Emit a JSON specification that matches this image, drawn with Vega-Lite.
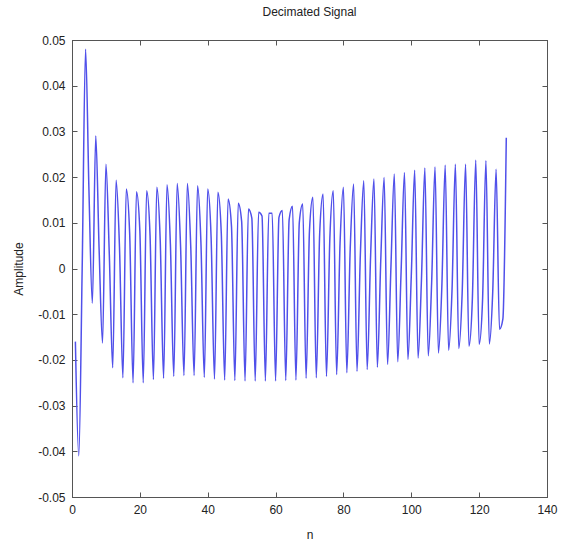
{
  "$schema": "https://vega.github.io/schema/vega-lite/v6.json",
  "width": 475,
  "height": 457,
  "autosize": {"type": "none"},
  "padding": {"left": 72, "top": 40, "right": 15, "bottom": 50},
  "background": "white",
  "title": {"text": "Decimated Signal", "fontSize": 12, "fontWeight": "normal", "font": "Liberation Sans", "color": "#222222", "offset": 15},
  "data": {"values": [
    {"n": 1, "amplitude": -0.016}, {"n": 2, "amplitude": -0.041}, {"n": 3, "amplitude": 0.0}, {"n": 4, "amplitude": 0.048},
    {"n": 5, "amplitude": 0.017}, {"n": 6, "amplitude": -0.0076}, {"n": 7, "amplitude": 0.029}, {"n": 8, "amplitude": 0.004},
    {"n": 9, "amplitude": -0.0163}, {"n": 10, "amplitude": 0.0228}, {"n": 11, "amplitude": 0.003}, {"n": 12, "amplitude": -0.0217},
    {"n": 13, "amplitude": 0.0193}, {"n": 14, "amplitude": 0.0046}, {"n": 15, "amplitude": -0.0239}, {"n": 16, "amplitude": 0.0174},
    {"n": 17, "amplitude": 0.0076}, {"n": 18, "amplitude": -0.025}, {"n": 19, "amplitude": 0.0168}, {"n": 20, "amplitude": 0.0082},
    {"n": 21, "amplitude": -0.025}, {"n": 22, "amplitude": 0.017}, {"n": 23, "amplitude": 0.0073}, {"n": 24, "amplitude": -0.0243},
    {"n": 25, "amplitude": 0.0178}, {"n": 26, "amplitude": 0.0062}, {"n": 27, "amplitude": -0.024}, {"n": 28, "amplitude": 0.0183},
    {"n": 29, "amplitude": 0.0053}, {"n": 30, "amplitude": -0.0236}, {"n": 31, "amplitude": 0.0186}, {"n": 32, "amplitude": 0.0048},
    {"n": 33, "amplitude": -0.0234}, {"n": 34, "amplitude": 0.0186}, {"n": 35, "amplitude": 0.0048}, {"n": 36, "amplitude": -0.0234},
    {"n": 37, "amplitude": 0.0181}, {"n": 38, "amplitude": 0.0057}, {"n": 39, "amplitude": -0.0238}, {"n": 40, "amplitude": 0.0174},
    {"n": 41, "amplitude": 0.0068}, {"n": 42, "amplitude": -0.0242}, {"n": 43, "amplitude": 0.0167}, {"n": 44, "amplitude": 0.0077},
    {"n": 45, "amplitude": -0.0244}, {"n": 46, "amplitude": 0.0152}, {"n": 47, "amplitude": 0.0093}, {"n": 48, "amplitude": -0.0245},
    {"n": 49, "amplitude": 0.0143}, {"n": 50, "amplitude": 0.0103}, {"n": 51, "amplitude": -0.0246}, {"n": 52, "amplitude": 0.013},
    {"n": 53, "amplitude": 0.011}, {"n": 54, "amplitude": -0.0246}, {"n": 55, "amplitude": 0.0123}, {"n": 56, "amplitude": 0.0115},
    {"n": 57, "amplitude": -0.0246}, {"n": 58, "amplitude": 0.0121}, {"n": 59, "amplitude": 0.0121}, {"n": 60, "amplitude": -0.0246},
    {"n": 61, "amplitude": 0.0112}, {"n": 62, "amplitude": 0.0127}, {"n": 63, "amplitude": -0.0245}, {"n": 64, "amplitude": 0.0107},
    {"n": 65, "amplitude": 0.0136}, {"n": 66, "amplitude": -0.0244}, {"n": 67, "amplitude": 0.0101}, {"n": 68, "amplitude": 0.0141},
    {"n": 69, "amplitude": -0.024}, {"n": 70, "amplitude": 0.0084}, {"n": 71, "amplitude": 0.0156}, {"n": 72, "amplitude": -0.0239},
    {"n": 73, "amplitude": 0.0076}, {"n": 74, "amplitude": 0.0163}, {"n": 75, "amplitude": -0.0236}, {"n": 76, "amplitude": 0.0066},
    {"n": 77, "amplitude": 0.017}, {"n": 78, "amplitude": -0.0232}, {"n": 79, "amplitude": 0.0054}, {"n": 80, "amplitude": 0.0178},
    {"n": 81, "amplitude": -0.0228}, {"n": 82, "amplitude": 0.0043}, {"n": 83, "amplitude": 0.0185}, {"n": 84, "amplitude": -0.0225},
    {"n": 85, "amplitude": 0.0033}, {"n": 86, "amplitude": 0.0192}, {"n": 87, "amplitude": -0.0221}, {"n": 88, "amplitude": 0.0025},
    {"n": 89, "amplitude": 0.0196}, {"n": 90, "amplitude": -0.0216}, {"n": 91, "amplitude": 0.0017}, {"n": 92, "amplitude": 0.0199},
    {"n": 93, "amplitude": -0.021}, {"n": 94, "amplitude": 0.0003}, {"n": 95, "amplitude": 0.0207}, {"n": 96, "amplitude": -0.0204},
    {"n": 97, "amplitude": -0.0006}, {"n": 98, "amplitude": 0.021}, {"n": 99, "amplitude": -0.0199}, {"n": 100, "amplitude": -0.0016},
    {"n": 101, "amplitude": 0.0215}, {"n": 102, "amplitude": -0.0196}, {"n": 103, "amplitude": -0.0024}, {"n": 104, "amplitude": 0.022},
    {"n": 105, "amplitude": -0.0191}, {"n": 106, "amplitude": -0.0031}, {"n": 107, "amplitude": 0.0222}, {"n": 108, "amplitude": -0.0185},
    {"n": 109, "amplitude": -0.0041}, {"n": 110, "amplitude": 0.0226}, {"n": 111, "amplitude": -0.0179}, {"n": 112, "amplitude": -0.0049},
    {"n": 113, "amplitude": 0.0228}, {"n": 114, "amplitude": -0.0175}, {"n": 115, "amplitude": -0.0053}, {"n": 116, "amplitude": 0.0228},
    {"n": 117, "amplitude": -0.017}, {"n": 118, "amplitude": -0.0067}, {"n": 119, "amplitude": 0.0237}, {"n": 120, "amplitude": -0.0166},
    {"n": 121, "amplitude": -0.007}, {"n": 122, "amplitude": 0.0236}, {"n": 123, "amplitude": -0.0165}, {"n": 124, "amplitude": -0.0052},
    {"n": 125, "amplitude": 0.0217}, {"n": 126, "amplitude": -0.0133}, {"n": 127, "amplitude": -0.011}, {"n": 128, "amplitude": 0.0286}
  ]},
  "config": {
    "view": {"stroke": "#555555", "strokeWidth": 1},
    "axis": {
      "grid": false,
      "domainColor": "#555555",
      "domainWidth": 1,
      "tickColor": "#555555",
      "tickSize": -5,
      "tickWidth": 1,
      "labelFont": "Liberation Sans",
      "labelFontSize": 12,
      "labelColor": "#222222",
      "titleFont": "Liberation Sans",
      "titleFontSize": 12,
      "titleFontWeight": "normal",
      "titleColor": "#222222"
    }
  },
  "layer": [
    {
      "mark": {"type": "line", "color": "#5050ea", "strokeWidth": 1.5, "interpolate": "monotone", "strokeJoin": "round"},
      "encoding": {
        "x": {"field": "n", "type": "quantitative", "scale": {"domain": [0, 140], "nice": false},
              "axis": {"orient": "bottom", "values": [0, 20, 40, 60, 80, 100, 120, 140], "title": "n", "labelPadding": 12, "titlePadding": 14, "labelFlush": false}},
        "y": {"field": "amplitude", "type": "quantitative", "scale": {"domain": [-0.05, 0.05], "nice": false},
              "axis": {"orient": "left", "values": [-0.05, -0.04, -0.03, -0.02, -0.01, 0, 0.01, 0.02, 0.03, 0.04, 0.05], "title": "Amplitude", "labelPadding": 12, "titlePadding": 12, "labelFlush": false,
                       "labelExpr": "datum.value == 0 ? '0' : (datum.value < 0 ? '-' + format(-datum.value, '.2f') : format(datum.value, '.2f'))"}}
      }
    },
    {
      "mark": {"type": "line", "opacity": 0},
      "encoding": {
        "x": {"field": "n", "type": "quantitative", "scale": {"domain": [0, 140], "nice": false},
              "axis": {"orient": "top", "values": [0, 20, 40, 60, 80, 100, 120, 140], "labels": false, "title": null}},
        "y": {"field": "amplitude", "type": "quantitative", "scale": {"domain": [-0.05, 0.05], "nice": false},
              "axis": {"orient": "right", "values": [-0.05, -0.04, -0.03, -0.02, -0.01, 0, 0.01, 0.02, 0.03, 0.04, 0.05], "labels": false, "title": null}}
      }
    }
  ],
  "resolve": {"axis": {"x": "independent", "y": "independent"}}
}
